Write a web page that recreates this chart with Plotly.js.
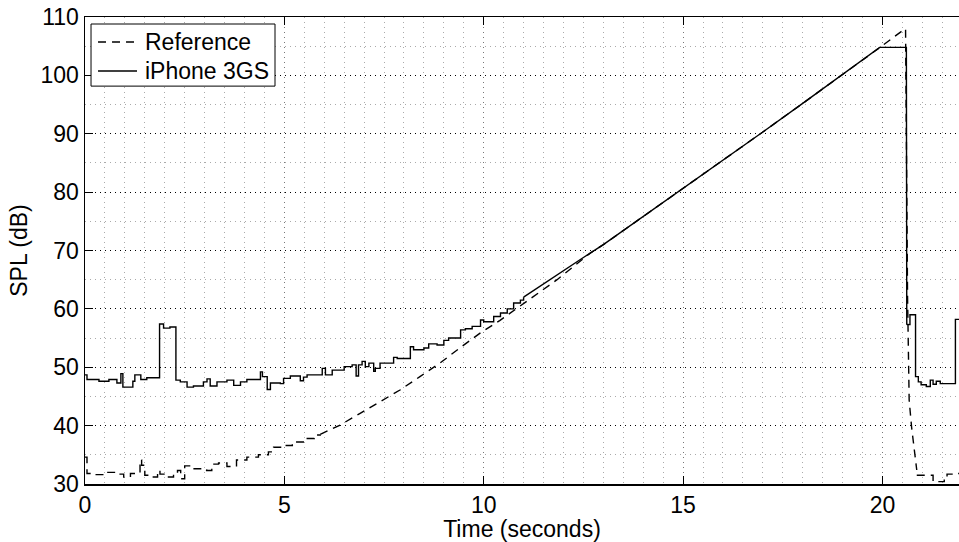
<!DOCTYPE html>
<html>
<head>
<meta charset="utf-8">
<script src="https://cdn.plot.ly/plotly-3.0.1.min.js"></script>
<style>
  html, body { margin: 0; padding: 0; background: #fff; }
  #chart { width: 959px; height: 542px; }
</style>
</head>
<body>
<div id="chart"></div>
<script>
// ---------- DATA ----------
const seriesNames = ["Reference", "iPhone 3GS"];
const xTickVals = [0, 5, 10, 15, 20];
const yTickVals = [30, 40, 50, 60, 70, 80, 90, 100, 110];

// Reference meter (dashed) – stepped noisy start
const refStepT = [0, 0.05, 0.26, 0.5, 0.76, 0.97, 1.14, 1.38, 1.42, 1.5, 1.68, 1.82, 1.88, 2.06, 2.22, 2.32, 2.4, 2.5, 2.7, 2.9, 3.05, 3.18, 3.35, 3.56, 3.8, 4.06, 4.35, 4.6, 4.73, 4.95, 5.2, 5.5, 5.75, 5.9];
const refStepV = [34.6, 31.8, 31.6, 32.0, 31.7, 31.2, 31.8, 34.1, 33.2, 31.5, 31.2, 32.3, 31.7, 31.2, 31.8, 32.3, 30.9, 33.1, 32.6, 32.4, 32.3, 33.4, 33.6, 33.0, 34.1, 34.6, 35.0, 35.5, 36.3, 36.6, 37.2, 37.8, 38.4, 38.5];
// Reference meter – smooth ramp and fall
const refRampT = [5.9, 6.4, 6.9, 7.4, 7.9, 8.4, 8.9, 9.4, 9.9, 10.4, 10.9, 11.4, 11.84, 12.3, 12.68, 13, 14, 15, 16, 17, 18, 19, 20, 20.47, 20.58, 20.63, 20.67, 20.73, 20.8, 20.86];
const refRampV = [38.5, 40.1, 42.1, 44.1, 46.1, 48.4, 50.7, 53.3, 55.8, 58.0, 60.4, 62.8, 65.0, 67.5, 69.6, 71.0, 75.8, 80.7, 85.5, 90.3, 95.2, 100.1, 105.1, 107.5, 108.0, 62.0, 44.4, 39.8, 35.5, 32.4];
// Reference meter – stepped tail
const refTailT = [20.86, 21.27, 21.55, 21.62, 21.8, 22];
const refTailV = [31.5, 30.4, 30.8, 31.7, 31.8, 31.8];

// iPhone 3GS (solid) – stepped noisy start
const iphStepT = [0, 0.05, 0.35, 0.6, 0.8, 0.9, 0.95, 1.2, 1.25, 1.4, 1.55, 1.87, 1.97, 2.13, 2.28, 2.39, 2.56, 2.72, 2.97, 3.06, 3.14, 3.31, 3.56, 3.73, 3.9, 4.06, 4.4, 4.45, 4.57, 4.65,
  4.9, 4.98, 5.15, 5.4, 5.48, 5.57, 5.95, 6.03, 6.2, 6.5, 6.7, 6.8, 6.86, 6.95, 7.03, 7.12, 7.24, 7.28, 7.4, 7.74, 7.83, 8.16, 8.24, 8.5, 8.62, 8.83, 9.0, 9.12, 9.42, 9.54, 9.71, 9.92, 10.0, 10.25, 10.42, 10.59, 10.75, 10.92, 11.0];
const iphStepV = [48.7, 47.9, 47.6, 47.9, 47.3, 48.9, 46.6, 47.6, 48.7, 47.9, 48.2, 57.4, 56.7, 56.9, 47.8, 47.5, 46.6, 46.8, 47.5, 48.0, 46.8, 47.5, 47.8, 46.9, 47.5, 47.9, 49.2, 48.4, 46.2, 47.3,
  47.2, 48.1, 48.5, 47.7, 48.3, 48.7, 49.8, 48.7, 49.5, 50.1, 50.4, 48.5, 50.4, 51.0, 50.1, 50.7, 49.3, 49.8, 50.7, 51.7, 51.5, 53.5, 53.0, 53.3, 54.0, 53.8, 54.6, 55.0, 56.4, 56.6, 57.0, 58.1, 57.8, 58.7, 59.3, 60.0, 61.0, 61.5, 62.0];
// iPhone 3GS – smooth ramp, plateau and fall
const iphRampT = [11.0, 11.5, 12.0, 12.5, 13.0, 14, 15, 16, 17, 18, 19, 19.93, 20.6, 20.61];
const iphRampV = [62.0, 64.3, 66.6, 68.8, 71.0, 75.8, 80.7, 85.5, 90.3, 95.2, 100.1, 104.8, 104.8, 57.3];
// iPhone 3GS – stepped tail
const iphTailT = [20.61, 20.69, 20.83, 20.9, 20.97, 21.1, 21.2, 21.27, 21.35, 21.45, 21.83, 22];
const iphTailV = [57.3, 59.0, 48.4, 47.5, 47.0, 46.7, 47.8, 47.1, 47.6, 47.2, 58.2, 58.2];

// ---------- STYLE ----------
const FONT = "Liberation Sans, Arial, Helvetica, sans-serif";
const FS = 23;
const DASH = "8px,6px";
const dashLine = { color: "#000", width: 1.4, dash: DASH };
const solidLine = { color: "#000", width: 1.4 };

function tr(x, y, name, line, shape) {
  return { x: x, y: y, type: "scatter", mode: "lines", name: name,
    legendgroup: name, showlegend: false, hoverinfo: "skip",
    line: Object.assign({ shape: shape }, line) };
}

const data = [
  tr(refStepT, refStepV, seriesNames[0], dashLine, "hv"),
  tr(refRampT, refRampV, seriesNames[0], dashLine, "linear"),
  tr(refTailT, refTailV, seriesNames[0], dashLine, "hv"),
  tr(iphStepT, iphStepV, seriesNames[1], solidLine, "hv"),
  tr(iphRampT, iphRampV, seriesNames[1], solidLine, "linear"),
  tr(iphTailT, iphTailV, seriesNames[1], solidLine, "hv")
];

// MATLAB-style legend box (paper coordinates of the plot area)
const legBox = { x0: 0.0069, x1: 0.2174, y0: 0.852, y1: 0.985 };
const legRows = [0.9465, 0.8844];
const legLineX = [0.0149, 0.0595];
const legTextX = 0.0664;

const shapes = [
  { type: "rect", xref: "paper", yref: "paper", x0: legBox.x0, x1: legBox.x1, y0: legBox.y0, y1: legBox.y1,
    line: { color: "#000", width: 1 }, fillcolor: "#fff", layer: "above" },
  { type: "line", xref: "paper", yref: "paper", x0: legLineX[0], x1: legLineX[1], y0: legRows[0], y1: legRows[0],
    line: { color: "#000", width: 1.4, dash: DASH }, layer: "above" },
  { type: "line", xref: "paper", yref: "paper", x0: legLineX[0], x1: legLineX[1], y0: legRows[1], y1: legRows[1],
    line: { color: "#000", width: 1.4 }, layer: "above" }
];
const annotations = seriesNames.map((n, i) => ({
  text: n, xref: "paper", yref: "paper", x: legTextX, y: legRows[i],
  xanchor: "left", yanchor: "middle", showarrow: false,
  font: { family: FONT, size: FS, color: "#000" }
}));

const layout = {
  width: 959, height: 542,
  margin: { l: 85, r: 0, t: 17, b: 58, pad: 0 },
  paper_bgcolor: "#fff", plot_bgcolor: "#fff",
  font: { family: FONT, size: FS, color: "#000" },
  showlegend: false,
  shapes: shapes,
  annotations: annotations,
  xaxis: {
    range: [0, 21.92], tickvals: xTickVals, ticktext: xTickVals.map(String),
    ticks: "inside", ticklen: 8, tickwidth: 1, tickcolor: "#000",
    showline: true, linecolor: "#000", linewidth: 1.5, mirror: "ticks",
    showgrid: true, gridcolor: "#777", gridwidth: 1, griddash: "1px,4px",
    zeroline: false,
    minor: { dtick: 0.5, tick0: 0, showgrid: true, gridcolor: "#aaa", gridwidth: 1, griddash: "1px,4px", ticks: "" },
    tickfont: { family: FONT, size: FS, color: "#000" },
    title: { text: "Time (seconds)", font: { family: FONT, size: FS, color: "#000" }, standoff: 0 }
  },
  yaxis: {
    range: [30, 110], tickvals: yTickVals, ticktext: yTickVals.map(String),
    ticks: "inside", ticklen: 8, tickwidth: 1, tickcolor: "#000",
    showline: true, linecolor: "#000", linewidth: 1.5, mirror: false,
    showgrid: true, gridcolor: "#000", gridwidth: 1, griddash: "1px,4px",
    zeroline: false,
    minor: { dtick: 5, tick0: 0, showgrid: true, gridcolor: "#aaa", gridwidth: 1, griddash: "1px,4px", ticks: "" },
    tickfont: { family: FONT, size: FS, color: "#000" },
    title: { text: "SPL (dB)", font: { family: FONT, size: FS, color: "#000" }, standoff: 6 }
  }
};

Plotly.newPlot("chart", data, layout, { staticPlot: true, displayModeBar: false });
</script>
</body>
</html>
